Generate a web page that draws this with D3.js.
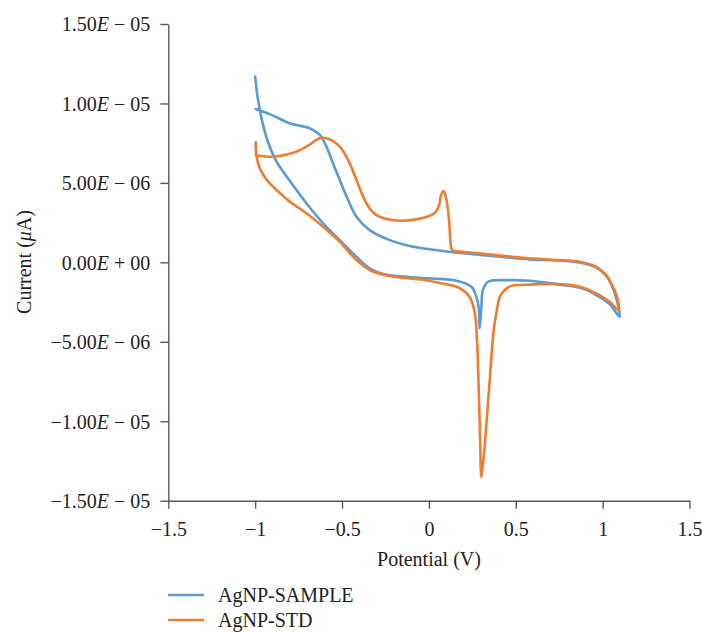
<!DOCTYPE html>
<html>
<head>
<meta charset="utf-8">
<script src="https://cdn.jsdelivr.net/npm/d3@7/dist/d3.min.js"></script>
<style>
  html, body { margin: 0; padding: 0; background: #fff; }
  svg { display: block; }
  text { font-family: "Liberation Serif", "DejaVu Serif", serif; fill: #222; }
</style>
</head>
<body>
<svg id="chart" width="702" height="632"></svg>
<script>
// ---- data (Potential in V, Current in A) ----
const seriesNames = ["AgNP-SAMPLE", "AgNP-STD"];
const seriesColors = ["#5B9BD5", "#ED7D31"];

const samplePotential = [
  -1.00, -0.985, -0.964, -0.927, -0.877, -0.800, -0.705, -0.609, -0.513,
  -0.417, -0.341, -0.264, -0.129, 0.005, 0.158, 0.245, 0.273, 0.288, 0.292,
  0.302, 0.311, 0.340, 0.446, 0.580, 0.680, 0.753, 0.868, 0.964, 1.040, 1.098,
  1.088, 1.059, 1.021, 0.964, 0.868, 0.753, 0.580, 0.252, 0.158, 0.005,
  -0.110, -0.225, -0.341, -0.417, -0.465, -0.513, -0.552, -0.590, -0.628, -0.686,
  -0.801, -0.906, -0.997
];
const sampleCurrent = [
  1.169e-5, 1.035e-5, 9.09e-6, 7.59e-6, 6.34e-6, 5.12e-6, 3.72e-6, 2.46e-6, 1.40e-6,
  3.5e-7, -3.8e-7, -7.4e-7, -9.1e-7, -1.01e-6, -1.16e-6, -1.54e-6, -2.17e-6, -3.00e-6, -4.16e-6,
  -2.80e-6, -1.74e-6, -1.22e-6, -1.12e-6, -1.16e-6, -1.28e-6, -1.40e-6, -1.59e-6, -2.06e-6, -2.63e-6, -3.43e-6,
  -2.69e-6, -1.62e-6, -8.6e-7, -3.3e-7, -1e-8, 1.1e-7, 1.9e-7, 5.2e-7, 6.0e-7, 8.2e-7,
  1.03e-6, 1.40e-6, 2.03e-6, 2.87e-6, 3.92e-6, 5.18e-6, 6.23e-6, 7.28e-6, 8.02e-6, 8.44e-6,
  8.75e-6, 9.28e-6, 9.65e-6
];

const stdPotential = [
  -0.997, -0.993, -0.974, -0.933, -0.858, -0.801, -0.705, -0.609, -0.513, -0.417,
  -0.341, -0.226, -0.034, 0.062, 0.177, 0.235, 0.264, 0.277, 0.288, 0.295,
  0.302, 0.312, 0.321, 0.350, 0.373, 0.388, 0.407, 0.426, 0.453, 0.484,
  0.580, 0.753, 0.868, 0.964, 1.040, 1.092,
  1.088, 1.059, 1.021, 0.964, 0.868, 0.753, 0.580, 0.254, 0.177, 0.137,
  0.129, 0.116, 0.101, 0.085, 0.068, 0.062, 0.043, 0.024, -0.072, -0.168,
  -0.284, -0.324, -0.360, -0.417, -0.456, -0.513, -0.590, -0.628, -0.705, -0.772,
  -0.906, -0.997
];
const stdCurrent = [
  7.56e-6, 6.76e-6, 5.94e-6, 5.18e-6, 4.36e-6, 3.82e-6, 3.09e-6, 2.24e-6, 1.30e-6, 1.4e-7,
  -4.8e-7, -8.6e-7, -1.10e-6, -1.30e-6, -1.62e-6, -2.19e-6, -3.19e-6, -4.89e-6, -8.46e-6, -1.119e-5,
  -1.350e-5, -1.258e-5, -1.161e-5, -7.41e-6, -4.26e-6, -3.21e-6, -2.19e-6, -1.87e-6, -1.59e-6, -1.46e-6,
  -1.40e-6, -1.37e-6, -1.54e-6, -1.95e-6, -2.48e-6, -3.00e-6,
  -2.37e-6, -1.54e-6, -8.0e-7, -2.8e-7, 4e-8, 1.4e-7, 2.5e-7, 6.0e-7, 6.8e-7, 7.4e-7,
  8.8e-7, 2.66e-6, 3.92e-6, 4.49e-6, 4.17e-6, 3.72e-6, 3.23e-6, 3.04e-6, 2.71e-6, 2.62e-6,
  2.87e-6, 3.17e-6, 3.72e-6, 5.18e-6, 6.23e-6, 7.28e-6, 7.81e-6, 7.81e-6, 7.28e-6, 6.93e-6,
  6.65e-6, 6.76e-6
];

const xTickValues = [-1.5, -1, -0.5, 0, 0.5, 1, 1.5];
const xTickLabels = ["\u22121.5", "\u22121", "\u22120.5", "0", "0.5", "1", "1.5"];
const yTickValues = [1.5e-5, 1.0e-5, 5e-6, 0, -5e-6, -1.0e-5, -1.5e-5];
// each label: [mantissa, sign, exponent]
const yTickLabels = [
  ["1.50", "\u2212", "05"], ["1.00", "\u2212", "05"], ["5.00", "\u2212", "06"],
  ["0.00", "+", "00"], ["\u22125.00", "\u2212", "06"], ["\u22121.00", "\u2212", "05"],
  ["\u22121.50", "\u2212", "05"]
];
const xTitle = "Potential (V)";

// ---- layout ----
const svg = d3.select("#chart");
const axisColor = "#5a5a5a";
const x = d3.scaleLinear().domain([-1.5, 1.5]).range([168.3, 689.5]);
const y = d3.scaleLinear().domain([-1.5e-5, 1.5e-5]).range([500.7, 24]);

// y axis
const yAxis = svg.append("g").attr("transform", `translate(${x(-1.5)},0)`)
  .call(d3.axisLeft(y).tickValues(yTickValues).tickSize(8).tickSizeOuter(0).tickPadding(10).tickFormat(""));
yAxis.select(".domain").attr("stroke", axisColor).attr("stroke-width", 1.4);
yAxis.selectAll(".tick line").attr("stroke", axisColor).attr("stroke-width", 1.4);
yAxis.selectAll(".tick text").each(function(d, i) {
  const t = d3.select(this).attr("font-size", 20).attr("text-anchor", "end")
    .attr("dy", "0.34em").attr("fill", "#222");
  const lab = yTickLabels[i];
  t.append("tspan").text(lab[0]);
  t.append("tspan").attr("font-style", "italic").text("E");
  t.append("tspan").text(" " + lab[1] + " " + lab[2]);
});

// x axis
const xAxis = svg.append("g").attr("transform", `translate(0,${y(-1.5e-5)})`)
  .call(d3.axisBottom(x).tickValues(xTickValues).tickSize(8).tickSizeOuter(0).tickPadding(13)
    .tickFormat((d, i) => xTickLabels[i]));
xAxis.select(".domain").attr("stroke", axisColor).attr("stroke-width", 1.4);
xAxis.selectAll(".tick line").attr("stroke", axisColor).attr("stroke-width", 1.4);
xAxis.selectAll(".tick text").attr("font-size", 20).attr("fill", "#222")
  .attr("font-family", "Liberation Serif, serif");
yAxis.selectAll(".tick text").attr("font-family", "Liberation Serif, serif");

// axis titles
svg.append("text").attr("x", 429).attr("y", 566).attr("text-anchor", "middle")
  .attr("font-size", 20).text(xTitle);
const yt = svg.append("text").attr("transform", "translate(31,262) rotate(-90)")
  .attr("text-anchor", "middle").attr("font-size", 20);
yt.append("tspan").text("Current (");
yt.append("tspan").attr("font-style", "italic").text("\u03bc");
yt.append("tspan").text("A)");

// series
const series = [
  { name: seriesNames[0], color: seriesColors[0], pts: samplePotential.map((v, i) => [v, sampleCurrent[i]]) },
  { name: seriesNames[1], color: seriesColors[1], pts: stdPotential.map((v, i) => [v, stdCurrent[i]]) }
];
const line = d3.line().x(d => x(d[0])).y(d => y(d[1])).curve(d3.curveCatmullRom.alpha(0.5));
svg.append("g").selectAll("path").data(series).join("path")
  .attr("d", d => line(d.pts)).attr("fill", "none")
  .attr("stroke", d => d.color).attr("stroke-width", 2.6)
  .attr("stroke-linejoin", "round").attr("stroke-linecap", "round");

// legend
const lg = svg.append("g").selectAll("g").data(series).join("g")
  .attr("transform", (d, i) => `translate(168,${595 + i * 25})`);
lg.append("line").attr("x1", 0).attr("x2", 36).attr("y1", 0).attr("y2", 0)
  .attr("stroke", d => d.color).attr("stroke-width", 2.6);
lg.append("text").attr("x", 50).attr("y", 0).attr("dy", "0.34em").attr("font-size", 20)
  .text(d => d.name);
</script>
</body>
</html>
